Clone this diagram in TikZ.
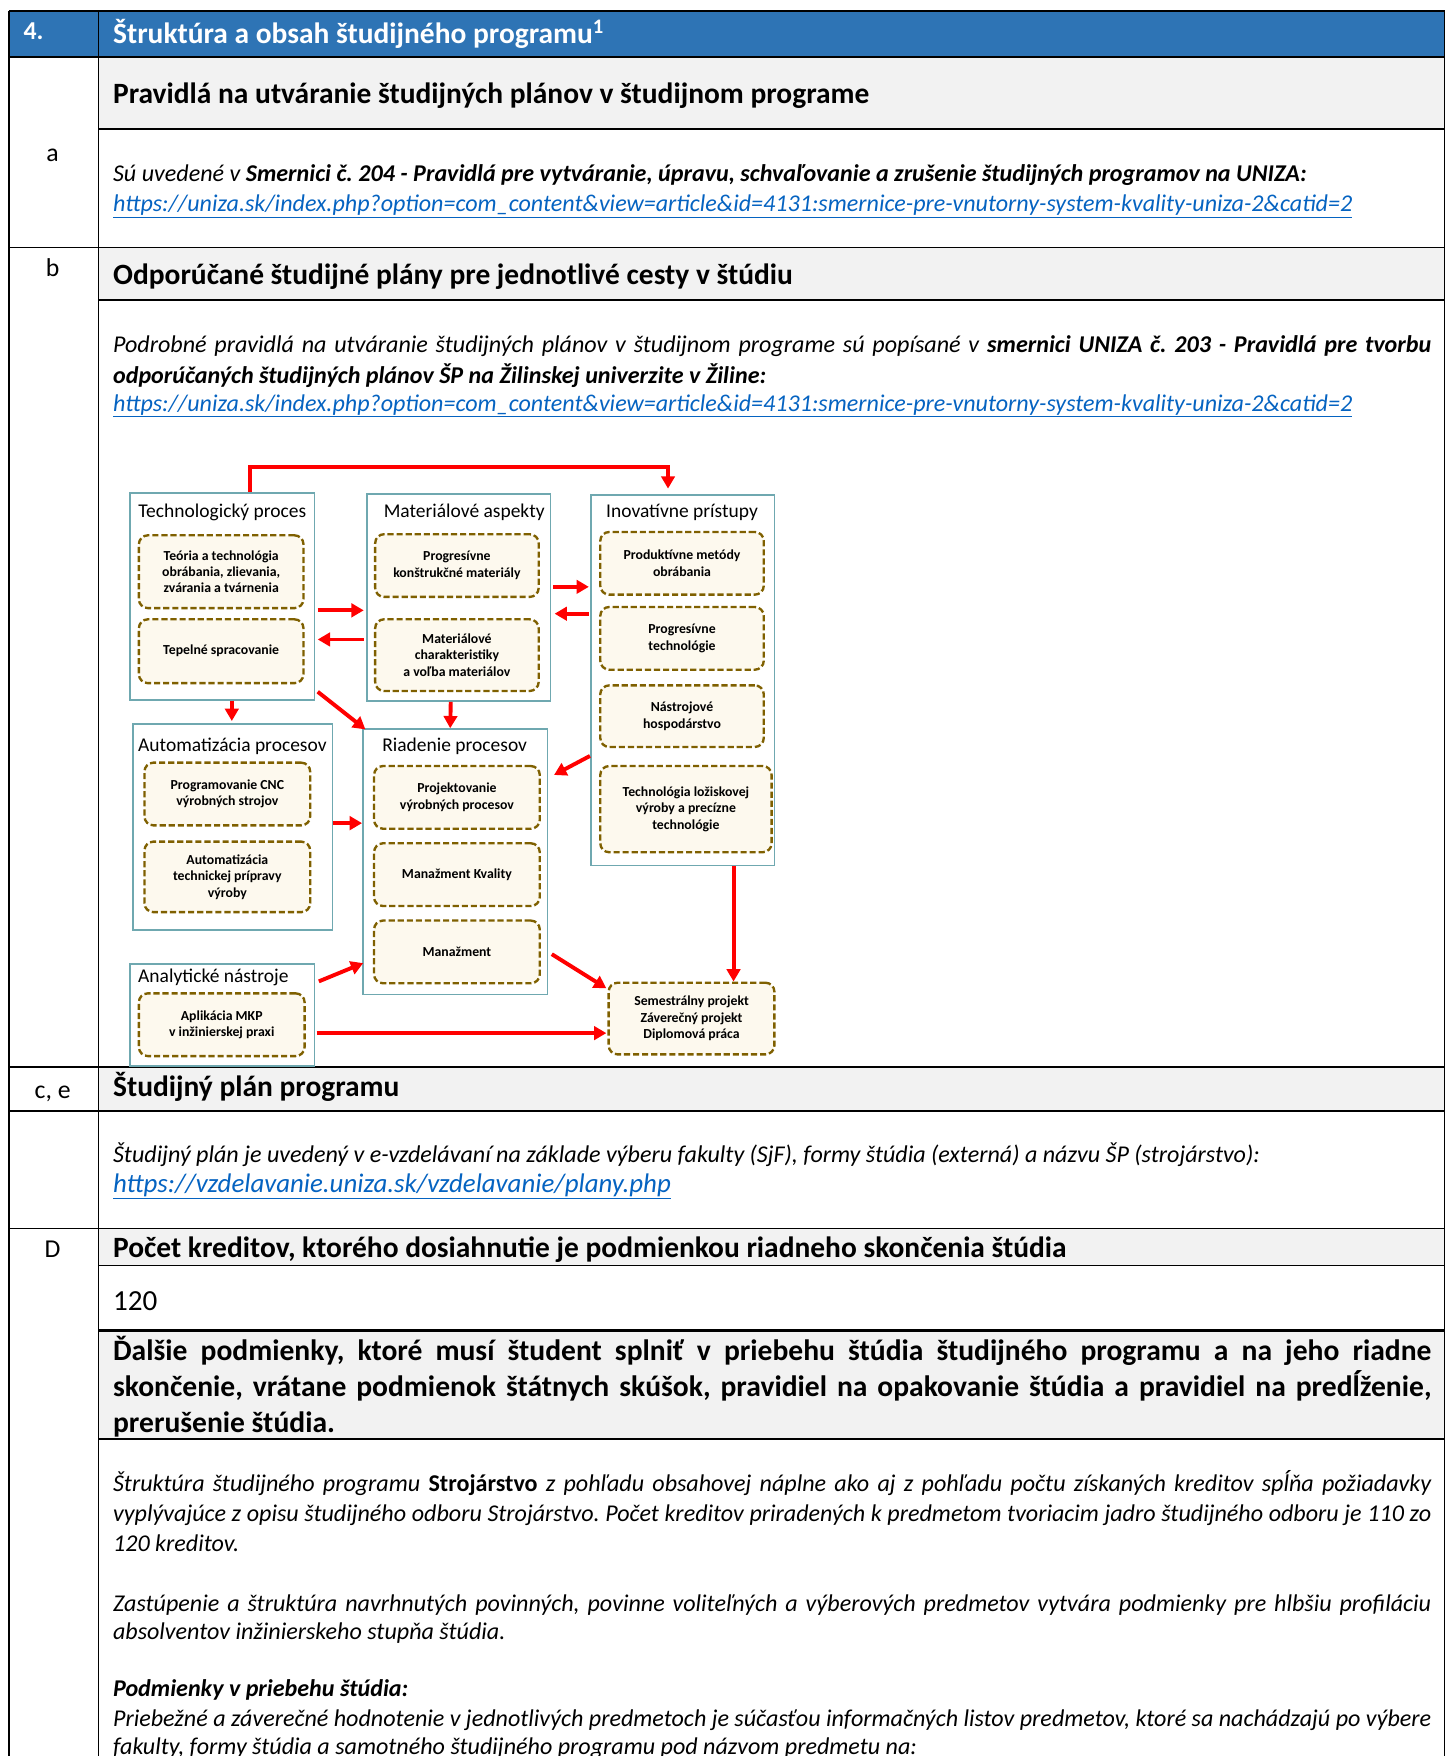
\documentclass[tikz,border=0pt]{standalone}
\usepackage{fontspec}
\setmainfont{Carlito}
\usetikzlibrary{arrows.meta,calc}
\definecolor{hblue}{HTML}{2E74B5}
\definecolor{hgrey}{HTML}{F2F2F2}
\definecolor{lnk}{HTML}{0563C1}
\definecolor{tealb}{HTML}{6FA8B0}
\definecolor{olivb}{HTML}{7F6000}
\definecolor{creamf}{HTML}{FDF9EE}
\definecolor{arrred}{HTML}{FF0000}
\newcommand{\fsz}[2]{\fontsize{#1}{#2}\selectfont}
\frenchspacing
\begin{document}
\begin{tikzpicture}[x=1pt,y=-1pt,
  txt/.style={anchor=base west, inner sep=0pt, outer sep=0pt},
  thin/.style={black, line width=1pt},
  thk/.style={black, line width=2pt},
  outerbox/.style={draw=tealb, line width=1.4pt, inner sep=0pt},
  innerbox/.style={draw=olivb, fill=creamf, line width=2.1pt, dash pattern=on 5.5pt off 2.6pt, rounded corners=8pt, align=center, inner sep=0pt, font=\bfseries\fsz{12.3}{14.7}},
  btitle/.style={anchor=base, inner sep=0pt, font=\fsz{17.4}{20}},
  arr/.style={draw=arrred, line width=3.5pt, -{Triangle[length=11pt,width=12pt]}},
  hd/.style={txt, font=\bfseries\fsz{26.3}{30}},
  it/.style={txt, font=\itshape\fsz{21.5}{26}},
  lab/.style={anchor=base, inner sep=0pt, font=\fsz{23}{26}},
  url/.style={txt, font=\itshape\fsz{21.5}{26}, text=lnk}
]
\useasboundingbox (0,0) rectangle (1297,1568);
\clip (0,0) rectangle (1297,1568);
% ---------- table backgrounds ----------
\fill[hblue] (8,10) rectangle (1290,51);
\fill[hgrey] (88,51) rectangle (1290,115);
\fill[hgrey] (88,221) rectangle (1290,268);
\fill[hgrey] (88,953) rectangle (1290,992);
\fill[hgrey] (88,1097) rectangle (1290,1130);
\fill[hgrey] (88,1188) rectangle (1290,1285);
% ---------- table lines ----------
\draw[thk] (8,10) -- (1290,10);
\draw[thin] (8,9.5) -- (8,1570);
\draw[thin] (1290,9.5) -- (1290,1570);
\draw[thin] (88,10) -- (88,1570);
\draw[thk] (8,51) -- (1290,51);
\draw[thk] (88,115) -- (1290,115);
\draw[thin] (8,221) -- (1290,221);
\draw[thk] (88,268) -- (1290,268);
\draw[thk] (8,953) -- (1290,953);
\draw[thk] (8,992) -- (1290,992);
\draw[thin] (8,1097) -- (1290,1097);
\draw[line width=1.5pt] (88,1130) -- (1290,1130);
\draw[thk] (88,1188) -- (1290,1188);
\draw[thk] (88,1285) -- (1290,1285);
% ---------- header ----------
\node[txt, text=white, font=\bfseries\fsz{23}{26}] (n4) at (21,35) {4.};
\node[hd, text=white] (title) at (101,39) {Štruktúra a obsah študijného programu\textsuperscript{1}};
% ---------- row a ----------
\node[lab] (la) at (47,144) {a};
\node[hd] (ha) at (101,92) {Pravidlá na utváranie študijných plánov v študijnom programe};
\node[it] (ta1) at (101,162) {Sú uvedené v \textbf{Smernici č. 204 - Pravidlá pre vytváranie, úpravu, schvaľovanie a zrušenie študijných programov na UNIZA:}};
\node[url] (ua) at (101,189) {\underline{https://uniza.sk/index.php?option=com\_content\&view=article\&id=4131:smernice-pre-vnutorny-system-kvality-uniza-2\&catid=2}};
% ---------- row b ----------
\node[lab] (lb) at (47,247) {b};
\node[hd] (hb) at (101,254) {Odporúčané študijné plány pre jednotlivé cesty v štúdiu};
\node[it] (tb1) at (101,315) {\makebox[1177pt][s]{Podrobné pravidlá na utváranie študijných plánov v študijnom programe sú popísané v \textbf{smernici UNIZA č. 203 - Pravidlá pre tvorbu}}};
\node[it] (tb2) at (101,342) {\textbf{odporúčaných študijných plánov ŠP na Žilinskej univerzite v Žiline:}};
\node[url] (ub) at (101,367) {\underline{https://uniza.sk/index.php?option=com\_content\&view=article\&id=4131:smernice-pre-vnutorny-system-kvality-uniza-2\&catid=2}};
% ---------- diagram ----------
\node[outerbox, minimum width=165pt, minimum height=185pt] (tech) at (198.5,532.5) {};
\node[btitle] (techt) at (198.5,462) {Technologický proces};
\node[innerbox, minimum width=147pt, minimum height=65pt] (t1) at (197.5,510.5) {Teória a technológia\\obrábania, zlievania,\\zvárania a tvárnenia};
\node[innerbox, minimum width=147pt, minimum height=57pt] (t2) at (197.5,581.5) {Tepelné spracovanie};

\node[outerbox, minimum width=164pt, minimum height=185pt] (mat) at (409.5,533.5) {};
\node[btitle] (matt) at (414.5,462) {Materiálové aspekty};
\node[innerbox, minimum width=146pt, minimum height=56pt] (m1) at (408,505) {Progresívne\\konštrukčné materiály};
\node[innerbox, minimum width=146pt, minimum height=64pt] (m2) at (408,585) {Materiálové\\charakteristiky\\a voľba materiálov};

\node[outerbox, minimum width=164pt, minimum height=331pt] (inov) at (609.5,607.5) {};
\node[btitle] (inovt) at (609,462) {Inovatívne prístupy};
\node[innerbox, minimum width=146pt, minimum height=56pt] (i1) at (609,503) {Produktívne metódy\\obrábania};
\node[innerbox, minimum width=146pt, minimum height=56pt] (i2) at (609,570) {Progresívne\\technológie};
\node[innerbox, minimum width=146pt, minimum height=55pt] (i3) at (609,639.5) {Nástrojové\\hospodárstvo};
\node[innerbox, minimum width=153pt, minimum height=77pt] (i4) at (612.5,722.5) {Technológia ložiskovej\\výroby a precízne\\technológie};

\node[outerbox, minimum width=178pt, minimum height=184pt] (auto) at (208,738.5) {};
\node[btitle] (autot) at (207.5,671) {Automatizácia procesov};
\node[innerbox, minimum width=148pt, minimum height=56pt] (a1) at (203,709) {Programovanie CNC\\výrobných strojov};
\node[innerbox, minimum width=148pt, minimum height=63pt] (a2) at (203,783) {Automatizácia\\technickej prípravy\\výroby};

\node[outerbox, minimum width=165pt, minimum height=237pt] (riad) at (406.5,769.5) {};
\node[btitle] (riadt) at (406,671) {Riadenie procesov};
\node[innerbox, minimum width=148pt, minimum height=56pt] (r1) at (408,712) {Projektovanie\\výrobných procesov};
\node[innerbox, minimum width=148pt, minimum height=56pt] (r2) at (408,781) {Manažment Kvality};
\node[innerbox, minimum width=148pt, minimum height=56pt] (r3) at (408,850) {Manažment};

\node[outerbox, minimum width=165pt, minimum height=91pt] (anal) at (198.5,906.5) {};
\node[btitle] (analt) at (190.5,877.5) {Analytické nástroje};
\node[innerbox, minimum width=148pt, minimum height=56pt] (an1) at (198,915) {Aplikácia MKP\\v inžinierskej praxi};

\node[innerbox, minimum width=148pt, minimum height=64pt] (sem) at (617.5,909.5) {Semestrálny projekt\\Záverečný projekt\\Diplomová práca};

% arrows
\draw[arr] ([xshift=24.5pt]tech.north) -- ++(0,-22) -| ([xshift=-13pt,yshift=5pt]inov.north);
\draw[arr] ([xshift=2pt,yshift=-12.5pt]tech.east) -- ([xshift=-2pt,yshift=-11.5pt]mat.west);
\draw[arr] ([xshift=-2pt,yshift=-37.5pt]mat.west) -- ([xshift=2pt,yshift=-38.5pt]tech.east);
\draw[arr] ([xshift=2pt,yshift=9.5pt]mat.east) -- ([xshift=-1pt,yshift=83.5pt]inov.west);
\draw[arr] ([xshift=-1pt,yshift=59.5pt]inov.west) -- ([xshift=3pt,yshift=-14.5pt]mat.east);
\draw[arr] ([xshift=8.5pt]tech.south) -- ([xshift=-1pt,yshift=2pt]auto.north);
\draw[arr] ([xshift=2pt,yshift=8pt]tech.south east) -- ([xshift=3pt,yshift=-1pt]riad.north west);
\draw[arr] ([xshift=-7pt]mat.south) -- ([xshift=-4.5pt]riad.north);
\draw[arr] ([yshift=-67.5pt]inov.west) -- ([xshift=5pt,yshift=77.5pt]riad.east);
\draw[arr] ([yshift=3.5pt]auto.east) -- ([yshift=34.5pt]riad.west);
\draw[arr] ([xshift=3pt,yshift=-16pt]anal.north east) -- ([xshift=1pt,yshift=-90.5pt]riad.west);
\draw[arr] ([xshift=3pt,yshift=-82.5pt]riad.east) -- ([xshift=-1pt,yshift=-6pt]sem.north west);
\draw[arr] ([xshift=1pt,yshift=-16pt]anal.east) -- ([xshift=-1pt,yshift=-13pt]sem.west);
\draw[arr] ([xshift=45.5pt]inov.south) -- ([xshift=37.5pt]sem.north);
% ---------- row c, e ----------
\node[lab] (lce) at (47,981) {c, e};
\node[hd] (hce) at (101,979) {Študijný plán programu};
\node[it] (tce) at (101,1038) {Študijný plán je uvedený v e-vzdelávaní na základe výberu fakulty (SjF), formy štúdia (externá) a názvu ŠP (strojárstvo):};
\node[url, font=\itshape\fsz{24}{28}] (uce) at (101,1065) {\underline{https://vzdelavanie.uniza.sk/vzdelavanie/plany.php}};
% ---------- row D ----------
\node[lab] (ld) at (47,1123) {D};
\node[hd] (hd1) at (101,1123) {Počet kreditov, ktorého dosiahnutie je podmienkou riadneho skončenia štúdia};
\node[txt, font=\fsz{26}{30}] (n120) at (101,1170) {120};
\node[txt, font=\bfseries\fsz{26.4}{32}] (hd2a) at (101,1215) {\makebox[1177pt][s]{Ďalšie podmienky, ktoré musí študent splniť v priebehu štúdia študijného programu a na jeho riadne}};
\node[txt, font=\bfseries\fsz{26.4}{32}] (hd2b) at (101,1247) {\makebox[1177pt][s]{skončenie, vrátane podmienok štátnych skúšok, pravidiel na opakovanie štúdia a pravidiel na predĺženie,}};
\node[txt, font=\bfseries\fsz{26.4}{32}] (hd2c) at (101,1279) {prerušenie štúdia.};
% ---------- bottom text ----------
\node[it] (p1a) at (101,1332) {\makebox[1177pt][s]{Štruktúra študijného programu \textbf{\upshape Strojárstvo} z pohľadu obsahovej náplne ako aj z pohľadu počtu získaných kreditov spĺňa požiadavky}};
\node[it] (p1b) at (101,1359) {\makebox[1177pt][s]{vyplývajúce z opisu študijného odboru Strojárstvo. Počet kreditov priradených k predmetom tvoriacim jadro študijného odboru je 110 zo}};
\node[it] (p1c) at (101,1385) {120 kreditov.};
\node[it] (p2a) at (101,1439) {\makebox[1177pt][s]{Zastúpenie a štruktúra navrhnutých povinných, povinne voliteľných a výberových predmetov vytvára podmienky pre hlbšiu profiláciu}};
\node[it] (p2b) at (101,1464) {absolventov inžinierskeho stupňa štúdia.};
\node[it] (p3a) at (101,1515) {\textbf{Podmienky v priebehu štúdia:}};
\node[it] (p3b) at (101,1542) {\makebox[1177pt][s]{Priebežné a záverečné hodnotenie v jednotlivých predmetoch je súčasťou informačných listov predmetov, ktoré sa nachádzajú po výbere}};
\node[it] (p3c) at (101,1567) {fakulty, formy štúdia a samotného študijného programu pod názvom predmetu na:};
\end{tikzpicture}
\end{document}
